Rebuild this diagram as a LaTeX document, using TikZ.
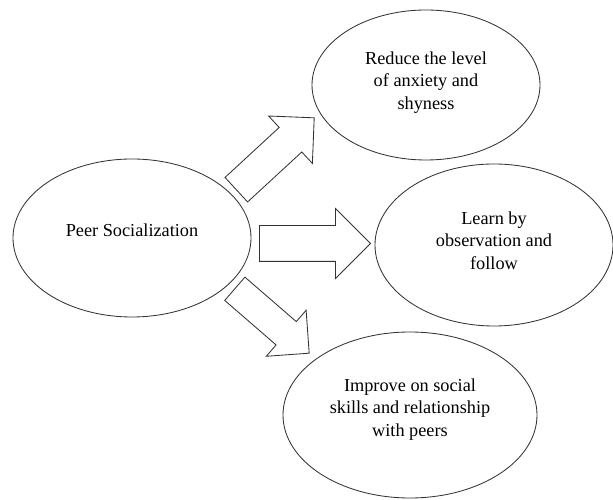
\documentclass[tikz,border=0pt]{standalone}
\usepackage{fontspec}
\setmainfont{Liberation Serif}
\usepackage{tikz}
\usetikzlibrary{shapes.geometric,shapes.arrows}

\begin{document}
\begin{tikzpicture}[elipse/.style={draw=black!80, ellipse, line width=0.6pt, align=center, inner sep=0pt, font=\fontsize{13}{16}\selectfont}, seta/.style={draw=black!80, line width=0.6pt, single arrow, anchor=tail, inner sep=0pt, text depth=0pt}]
\useasboundingbox (0,0) rectangle (15.325,12.5);
\node[elipse, minimum width=5.95cm, minimum height=3.95cm, text depth=0.37cm] (peer) at (3.30,6.55) {Peer Socialization};
\node[elipse, minimum width=5.7cm, minimum height=3.75cm, text depth=0.22cm] (reduce) at (10.65,10.375) {Reduce the level\\of anxiety and\\shyness};
\node[elipse, minimum width=5.95cm, minimum height=4.05cm, text depth=0.22cm] (learn) at (12.35,6.375) {Learn by\\observation and\\follow};
\node[elipse, minimum width=6.35cm, minimum height=4.15cm, text depth=0.37cm] (improve) at (10.25,2.125) {Improve on social\\skills and relationship\\with peers};
\node[seta, rotate=42.7, text height=0.8125cm, minimum height=2.65cm, minimum width=1.6cm, single arrow head extend=0.39cm] (s1) at (5.9,7.75) {};
\node[seta, text height=0.875cm, minimum height=2.775cm, minimum width=1.725cm, single arrow head extend=0.425cm] (s2) at (6.475,6.4125) {};
\node[seta, rotate=-40.9, text height=0.75cm, minimum height=2.46cm, minimum width=1.5cm, single arrow head extend=0.375cm] (s3) at (5.8625,5.2875) {};
\end{tikzpicture}
\end{document}
